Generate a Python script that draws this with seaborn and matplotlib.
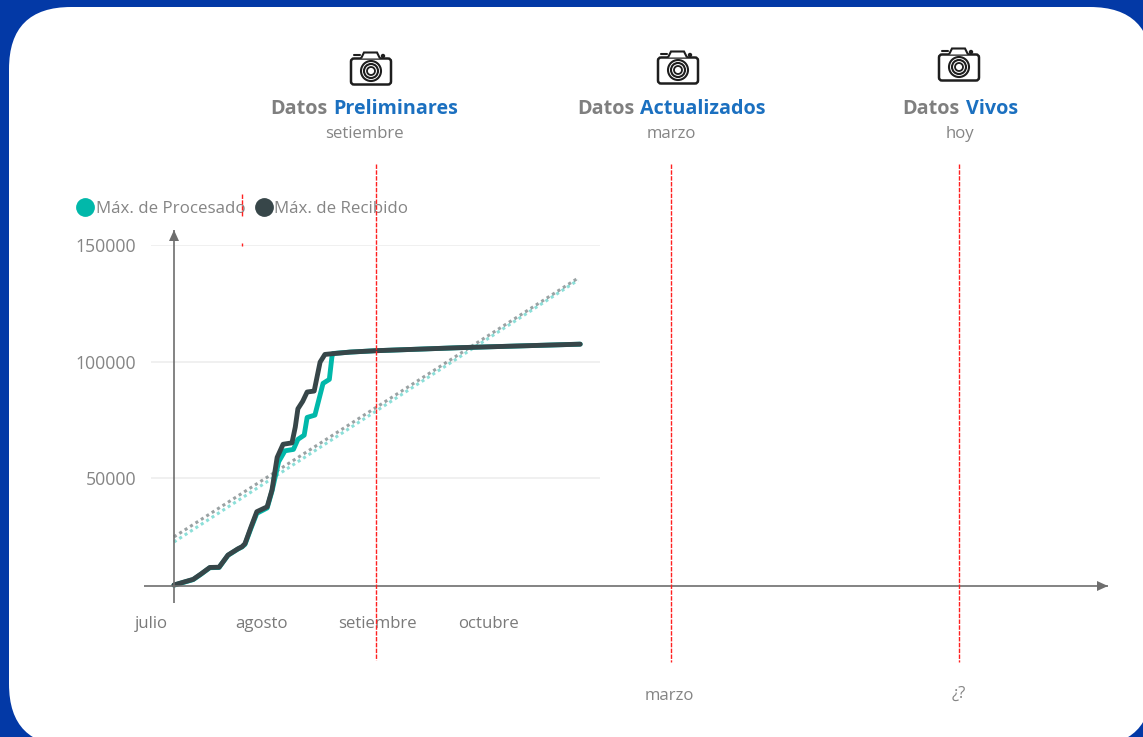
import matplotlib
matplotlib.use("Agg")
import matplotlib.pyplot as plt
from matplotlib.patches import FancyBboxPatch, Circle, Polygon
from matplotlib.lines import Line2D
import pandas as pd
import seaborn as sns

# ---------- data ----------
recibido_dias = [6.2, 9.0, 11.4, 13.5, 15.9, 18.4, 20.8, 23.5, 24.6, 25.4, 27.0, 28.6, 31.4, 32.7, 34.1, 35.7,
                 38.1, 39.0, 39.7, 41.0, 42.2, 44.1, 45.7, 47.0, 48.9, 53.8, 60.8, 83.5, 116.0]
recibido = [4300, 5600, 6700, 9000, 11800, 11900, 17100, 19800, 20700, 22000, 29000, 35700, 37800, 45000, 59000, 64600,
            65200, 72000, 79800, 83000, 87000, 87400, 99800, 103100, 103400, 104100, 104700, 106000, 107500]
procesado_dias = [6.2, 9.0, 11.4, 13.5, 15.9, 18.4, 20.8, 23.5, 24.6, 25.4, 27.0, 28.6, 31.4, 32.7, 34.5, 36.2,
                  38.5, 39.7, 41.4, 42.2, 44.3, 46.5, 48.2, 48.9, 49.2, 53.8, 60.8, 83.5, 116.0]
procesado = [4200, 5500, 6600, 8900, 11700, 11800, 17000, 19700, 20600, 21700, 28500, 35000, 37300, 44500, 57100, 61800,
             62400, 66700, 68500, 76100, 77100, 90700, 92400, 102100, 103500, 104100, 104700, 106000, 107500]
tendencia_dias = [6.2, 115.4]
tendencia_recibido = [24900, 135800]
tendencia_procesado = [22700, 134900]
y_ticks = [50000, 100000, 150000]
mes_dias = [0, 29.8, 61.2, 91.3]
meses = ["julio", "agosto", "setiembre", "octubre"]
nombre_proc = "Máx. de Procesado"
nombre_rec = "Máx. de Recibido"
hitos = [("Datos ", "Preliminares", "setiembre", 364.5, 371, 69),
         ("Datos ", "Actualizados", "marzo", 671.5, 678, 68),
         ("Datos ", "Vivos", "hoy", 960, 959, 65)]

# ---------- style ----------
sns.set_theme(style="white")
plt.rcParams["font.family"] = ["Open Sans", "DejaVu Sans"]
W, H = 1143, 737
BLUE = "#0339A6"; TEAL = "#01B8AA"; DARK = "#374649"; GRAY = "#7F7F7F"
TXT = "#858585"; LINK = "#1B70C0"; ARROW = "#6E6E6E"; RED = "#FF2020"

fig = plt.figure(figsize=(W / 100, H / 100), dpi=100, facecolor=BLUE)
bg = fig.add_axes([0, 0, 1, 1], zorder=0)
bg.set_xlim(0, W); bg.set_ylim(H, 0); bg.axis("off")
bg.add_patch(FancyBboxPatch((9, 7), 1143, 739, boxstyle="round,pad=0,rounding_size=62",
                            fc="white", ec="none"))

# ---------- chart ----------
L, R, T, B = 151, 600, 245, 595
ax = fig.add_axes([L / W, 1 - B / H, (R - L) / W, (B - T) / H], zorder=1)
ax.patch.set_alpha(0)

df = pd.concat([
    pd.DataFrame({"dia": procesado_dias, "valor": procesado, "serie": nombre_proc}),
    pd.DataFrame({"dia": recibido_dias, "valor": recibido, "serie": nombre_rec}),
])
sns.lineplot(data=df, x="dia", y="valor", hue="serie", estimator=None, sort=False,
             palette={nombre_proc: TEAL, nombre_rec: DARK}, linewidth=3.5, legend=False,
             ax=ax, zorder=4, solid_capstyle="round", clip_on=False)
ax.plot(tendencia_dias, tendencia_procesado, color=TEAL, alpha=0.45, lw=2.2, ls=(0, (1, 1.1)), zorder=3)
ax.plot(tendencia_dias, tendencia_recibido, color=DARK, alpha=0.5, lw=2.2, ls=(0, (1, 1.1)), zorder=3)

ax.set_yticks(y_ticks)
ax.set_yticklabels([str(v) for v in y_ticks], fontsize=12.7, color=TXT)
ax.set_xticks(mes_dias)
ax.set_xticklabels(meses, fontsize=12.1, color="#7A7A7A")
ax.set_xlim(0, (R - L) / 3.7)
ax.set_ylim(0, 150000)
ax.tick_params(axis="y", length=0, pad=10.8)
ax.tick_params(axis="x", length=0, pad=15)
ax.grid(axis="y", color="#EEEEEE", lw=1.2)
ax.grid(axis="x", visible=False)
ax.set_xlabel(""); ax.set_ylabel("")
for s in ax.spines.values():
    s.set_visible(False)

handles = [Line2D([], [], ls="", marker="o", ms=12.5, color=TEAL, label=nombre_proc),
           Line2D([], [], ls="", marker="o", ms=12.5, color=DARK, label=nombre_rec)]
leg = ax.legend(handles=handles, ncol=2, frameon=False, fontsize=12.2, labelcolor=TXT,
                loc="lower left", bbox_to_anchor=((70 - L) / (R - L), (B - 217) / (B - T)),
                bbox_transform=ax.transAxes, borderpad=0, borderaxespad=0,
                handletextpad=-0.28, columnspacing=0.18, handlelength=1.8)

# ---------- overlay ----------
ov = fig.add_axes([0, 0, 1, 1], zorder=2)
ov.set_xlim(0, W); ov.set_ylim(H, 0); ov.axis("off"); ov.patch.set_alpha(0)

def flecha(x0, y0, x1, y1):
    ov.plot([x0, x1], [y0, y1], color=ARROW, lw=1.2, solid_capstyle="butt")
    if x0 == x1:
        ov.add_patch(Polygon([[x1, y1], [x1 - 5, y1 + 11], [x1 + 5, y1 + 11]], fc=ARROW, ec="none"))
    else:
        ov.add_patch(Polygon([[x1, y1], [x1 - 11, y1 - 5], [x1 - 11, y1 + 5]], fc=ARROW, ec="none"))

flecha(174, 603, 174, 230)
flecha(144, 586, 1108, 586)

for x, y0, y1 in [(376, 164, 660), (671, 164, 662), (959, 164, 662), (242, 194, 217), (242, 243, 246)]:
    ov.plot([x, x], [y0, y1], color=RED, lw=1.0, ls=(0, (3.2, 1.0)))

def camara(cx, cy):
    c = "#1E1E1E"
    ov.add_patch(FancyBboxPatch((cx - 20, cy - 10.5), 40, 26, boxstyle="round,pad=0,rounding_size=3",
                                fc="white", ec=c, lw=1.8))
    ov.add_patch(Polygon([[cx - 10, cy - 10.5], [cx - 7, cy - 16.5], [cx + 6, cy - 16.5], [cx + 9, cy - 10.5]],
                         closed=False, fc="white", ec=c, lw=1.5))
    ov.plot([cx - 17, cx - 11], [cy - 14, cy - 14], color=c, lw=1.5)
    ov.add_patch(Circle((cx + 12, cy - 13), 2.2, fc=c, ec="none"))
    ov.add_patch(Circle((cx, cy + 2), 10, fc="white", ec=c, lw=1.5))
    ov.add_patch(Circle((cx, cy + 2), 7, fc="white", ec=c, lw=1.5))
    ov.add_patch(Circle((cx, cy + 2), 4, fc="white", ec=c, lw=1.3))

fig.canvas.draw()
rend = fig.canvas.get_renderer()
for a, b, sub, xc, camx, camy in hitos:
    camara(camx, camy)
    ta = ov.text(0, 108.5, a.strip(), fontsize=14.2, fontweight="bold", color=GRAY, va="center", ha="left")
    tb = ov.text(0, 108.5, b, fontsize=14.2, fontweight="bold", color=LINK, va="center", ha="left")
    wa = ta.get_window_extent(rend).width
    wb = tb.get_window_extent(rend).width
    gap = 6
    x0 = xc - (wa + gap + wb) / 2
    ta.set_x(x0); tb.set_x(x0 + wa + gap)
    ov.text(xc, 134, sub, fontsize=12.1, color=TXT, ha="center", va="center")

ov.text(669, 695.5, "marzo", fontsize=12.1, color=TXT, ha="center", va="center")
ov.text(959, 693.5, "¿?", fontsize=12.1, color=TXT, ha="center", va="center")

fig.savefig("out.png", dpi=100, facecolor=BLUE)
